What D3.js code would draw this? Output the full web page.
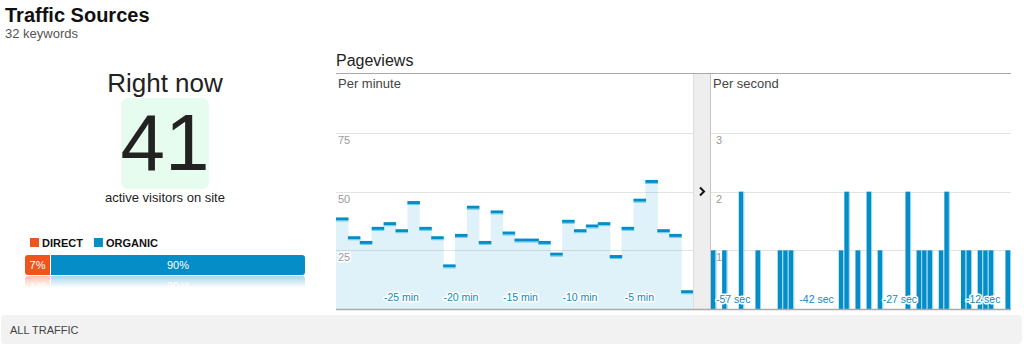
<!DOCTYPE html>
<html>
<head>
<meta charset="utf-8">
<script src="https://cdn.jsdelivr.net/npm/d3@7"></script>
<style>
body{margin:0;background:#fff;}
svg{display:block;font-family:"Liberation Sans",Arial,sans-serif;}
.halo{paint-order:stroke;stroke:#fff;stroke-width:3px;stroke-linejoin:round;}
</style>
</head>
<body>
<div id="chart"></div>
<script>
const activeVisitors = 41;
const sources = ["DIRECT", "ORGANIC"];
const sourceShares = [7, 90];

const minutes = [-30,-29,-28,-27,-26,-25,-24,-23,-22,-21,-20,-19,-18,-17,-16,
  -15,-14,-13,-12,-11,-10,-9,-8,-7,-6,-5,-4,-3,-2,-1];
const minuteViews = [39,31,29,35,37,34,46,35,31,19,32,44,29,42,33,
  30,30,29,24,38,34,36,37,23,35,47,55,34,32,8];
const minuteTicks = [-25,-20,-15,-10,-5];
const minuteGrid = [25,50,75];

const seconds = [-60,-59,-58,-57,-56,-55,-54,-53,-52,-51,-50,-49,-48,-47,-46,-45,-44,-43,
  -42,-41,-40,-39,-38,-37,-36,-35,-34,-33,-32,-31,-30,-29,-28,-27,-26,-25,
  -24,-23,-22,-21,-20,-19,-18,-17,-16,-15,-14,-13,-12,-11,-10,-9,-8,-7];
const secondViews = [1,0,1,0,0,2,0,0,1,0,
  0,0,1,1,1,0,0,0,0,0,
  0,0,0,1,2,0,1,0,2,0,
  1,0,0,0,0,2,0,1,1,1,
  0,1,2,0,0,1,1,0,1,1,
  1,0,0,1];
const secondTicks = [-57,-42,-27,-12];
const secondGrid = [1,2,3];

const width = 1024, height = 351;
const blue = "#058dc7", orange = "#ed561b";

const svg = d3.select("#chart")
  .append("svg")
  .attr("width", width)
  .attr("height", height);

const defs = svg.append("defs");

// ---- left block: title, big number, source bar
svg.append("text").attr("x", 5).attr("y", 22)
  .attr("font-size", 20).attr("font-weight", "bold").attr("fill", "#111")
  .text("Traffic Sources");
svg.append("text").attr("x", 5).attr("y", 38)
  .attr("font-size", 13).attr("fill", "#555")
  .text("32 keywords");

svg.append("text").attr("x", 165).attr("y", 92)
  .attr("text-anchor", "middle").attr("font-size", 26).attr("fill", "#222")
  .text("Right now");
svg.append("rect").attr("x", 121).attr("y", 98).attr("width", 88).attr("height", 91)
  .attr("rx", 7).attr("fill", "#e6fcee");
svg.append("text").attr("x", 165).attr("y", 170)
  .attr("text-anchor", "middle").attr("font-size", 80).attr("fill", "#222")
  .text(activeVisitors);
svg.append("text").attr("x", 165).attr("y", 202)
  .attr("text-anchor", "middle").attr("font-size", 13).attr("fill", "#222")
  .text("active visitors on site");

const color = d3.scaleOrdinal(sources, [orange, blue]);

// legend
let lx = 30;
sources.forEach(s => {
  const g = svg.append("g");
  g.append("rect").attr("x", lx).attr("y", 238).attr("width", 9).attr("height", 9)
    .attr("fill", color(s));
  const t = g.append("text").attr("x", lx + 12).attr("y", 247)
    .attr("font-size", 11).attr("font-weight", "bold").attr("fill", "#111").text(s);
  lx += 12 + t.node().getComputedTextLength() + 11;
});

// stacked share bar
const barX = 25, barY = 255, barW = 280, barH = 20, minSeg = 25;
const xShare = d3.scaleLinear([0, 100], [0, barW]);
const segW = sourceShares.map(v => Math.max(xShare(v), minSeg));
segW[segW.length - 1] = barW - d3.sum(segW.slice(0, -1)) - (segW.length - 1);
const segs = sources.map((s, i) => ({
  key: s, value: sourceShares[i],
  x: barX + d3.sum(segW.slice(0, i)) + i, w: segW[i]
}));

defs.append("clipPath").attr("id", "barclip")
  .append("rect").attr("x", barX).attr("y", barY).attr("width", barW).attr("height", barH).attr("rx", 3);

function drawShareBar(g) {
  const inner = g.append("g").attr("clip-path", "url(#barclip)");
  inner.selectAll("rect").data(segs).join("rect")
    .attr("x", d => d.x).attr("y", barY).attr("width", d => d.w).attr("height", barH)
    .attr("fill", d => color(d.key));
  g.selectAll("text").data(segs).join("text")
    .attr("x", d => d.x + d.w / 2).attr("y", barY + 14)
    .attr("text-anchor", "middle").attr("font-size", 11).attr("fill", "#fff")
    .text(d => d.value + "%");
}
drawShareBar(svg.append("g"));

// reflection
const grad = defs.append("linearGradient").attr("id", "fadegrad")
  .attr("x1", 0).attr("y1", 0).attr("x2", 0).attr("y2", 1);
grad.append("stop").attr("offset", 0).attr("stop-color", "#fff").attr("stop-opacity", 0.35);
grad.append("stop").attr("offset", 1).attr("stop-color", "#fff").attr("stop-opacity", 0);
defs.append("mask").attr("id", "fade")
  .append("rect").attr("x", barX).attr("y", barY + barH + 1).attr("width", barW).attr("height", 12)
  .attr("fill", "url(#fadegrad)");
const refl = svg.append("g").attr("mask", "url(#fade)")
  .append("g").attr("transform", `translate(0,${2 * (barY + barH) + 1}) scale(1,-1)`);
drawShareBar(refl);

// bottom band
svg.append("rect").attr("x", 1).attr("y", 315).attr("width", 1021).attr("height", 29)
  .attr("rx", 4).attr("fill", "#f2f2f2");
svg.append("text").attr("x", 10).attr("y", 334)
  .attr("font-size", 11).attr("fill", "#444").text("ALL TRAFFIC");

// ---- Pageviews panels
const panelTop = 74, base = 309;
svg.append("text").attr("x", 336).attr("y", 66)
  .attr("font-size", 16).attr("fill", "#222").text("Pageviews");
svg.append("line").attr("x1", 336).attr("x2", 1011).attr("y1", 73.5).attr("y2", 73.5)
  .attr("stroke", "#aaa");

// per minute
const xm = d3.scaleBand(minutes, [336, 693]).padding(0);
const ym = d3.scaleLinear([0, 75], [base, 133]);

const gm = svg.append("g");
gm.selectAll("rect.fill").data(minuteViews).join("rect").attr("class", "fill")
  .attr("x", (d, i) => xm(minutes[i])).attr("width", xm.bandwidth() + 0.6)
  .attr("y", d => ym(d)).attr("height", d => ym(0) - ym(d))
  .attr("fill", "#dff2f9");
gm.selectAll("line.grid").data(minuteGrid).join("line").attr("class", "grid")
  .attr("x1", 336).attr("x2", 693).attr("y1", d => Math.round(ym(d)) + 0.5).attr("y2", d => Math.round(ym(d)) + 0.5)
  .attr("stroke", "#000").attr("stroke-opacity", 0.11);
gm.selectAll("rect.cap").data(minuteViews).join("rect").attr("class", "cap")
  .attr("x", (d, i) => xm(minutes[i])).attr("width", xm.bandwidth() + 0.6)
  .attr("y", d => ym(d)).attr("height", 3).attr("fill", blue);
gm.selectAll("rect.capline").data(minuteViews).join("rect").attr("class", "capline")
  .attr("x", (d, i) => xm(minutes[i])).attr("width", xm.bandwidth() + 0.6)
  .attr("y", d => ym(d) + 3).attr("height", 1).attr("fill", "#6ccbeb");
gm.selectAll("text.ytick").data(minuteGrid).join("text").attr("class", "ytick halo")
  .attr("x", 338).attr("y", d => ym(d) + 11)
  .attr("font-size", 11).attr("fill", "#999").text(d => d);
gm.selectAll("text.xtick").data(minuteTicks).join("text").attr("class", "xtick halo")
  .attr("x", d => xm(d) + xm.bandwidth() / 2).attr("y", 301)
  .attr("text-anchor", "middle").attr("font-size", 10.5).attr("fill", "#1a86b8")
  .text(d => d + " min");
svg.append("text").attr("x", 338).attr("y", 88)
  .attr("font-size", 13).attr("fill", "#444").text("Per minute");

// separator column
svg.append("rect").attr("x", 693).attr("y", panelTop).attr("width", 18).attr("height", base - panelTop)
  .attr("fill", "#eee");
svg.append("line").attr("x1", 693.5).attr("x2", 693.5).attr("y1", panelTop).attr("y2", base)
  .attr("stroke", "#ddd");
svg.append("line").attr("x1", 710.5).attr("x2", 710.5).attr("y1", panelTop).attr("y2", base)
  .attr("stroke", "#c6c6c6");
svg.append("path").attr("d", "M700,187.5L704,191.5L700,195.5")
  .attr("fill", "none").attr("stroke", "#111").attr("stroke-width", 2);

// per second
const xs = d3.scaleBand(seconds, [711, 1011]).padding(0);
const ys = d3.scaleLinear([0, 3], [base, 133]);

const gs = svg.append("g");
gs.selectAll("line.grid").data(secondGrid).join("line").attr("class", "grid")
  .attr("x1", 711).attr("x2", 1011).attr("y1", d => Math.round(ys(d)) + 0.5).attr("y2", d => Math.round(ys(d)) + 0.5)
  .attr("stroke", "#000").attr("stroke-opacity", 0.11);
gs.selectAll("text.ytick").data(secondGrid).join("text").attr("class", "ytick halo")
  .attr("x", 716).attr("y", d => ys(d) + 11)
  .attr("font-size", 11).attr("fill", "#999").text(d => d);
const sbars = gs.selectAll("g.bar").data(secondViews.map((v, i) => ({s: seconds[i], v})).filter(d => d.v > 0))
  .join("g").attr("class", "bar");
sbars.append("rect")
  .attr("x", d => xs(d.s)).attr("width", xs.bandwidth() - 1)
  .attr("y", d => ys(d.v)).attr("height", d => ys(0) - ys(d.v))
  .attr("fill", blue);
sbars.append("rect")
  .attr("x", d => xs(d.s) + xs.bandwidth() - 1).attr("width", 1)
  .attr("y", d => ys(d.v)).attr("height", d => ys(0) - ys(d.v))
  .attr("fill", "#8fd6f0");
gs.selectAll("text.xtick").data(secondTicks).join("text").attr("class", "xtick halo")
  .attr("x", d => xs(d) + xs.bandwidth()).attr("y", 303)
  .attr("text-anchor", "middle").attr("font-size", 10.5).attr("fill", "#1a86b8")
  .text(d => d + " sec");
svg.append("text").attr("x", 713).attr("y", 88)
  .attr("font-size", 13).attr("fill", "#444").text("Per second");

// baseline
svg.append("line").attr("x1", 336).attr("x2", 1011).attr("y1", base + 0.5).attr("y2", base + 0.5)
  .attr("stroke", "#aaa").attr("stroke-width", 1.5);
</script>
</body>
</html>
